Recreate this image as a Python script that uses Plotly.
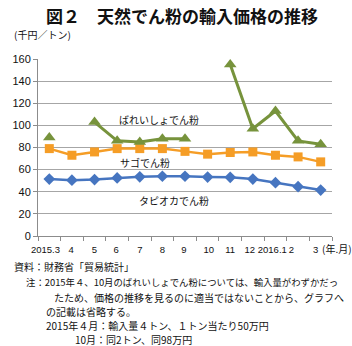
import plotly.graph_objects as go

# ---- data ----
months = ["2015.3", "4", "5", "6", "7", "8", "9", "10", "11", "12", "2016.1", "2", "3"]
potato = [89, None, 103, 86, 85, 88, 88, None, 155, 97, 113, 86, 83]
sago = [79, 73, 76, 79, 79, 79, 76.5, 74, 75.5, 76, 73, 71.5, 67]
tapioca = [51.5, 50.5, 51, 52.5, 53.5, 54, 54, 53.3, 53, 51.5, 48.2, 44.6, 41.5]
tick_labels = ["2015.3", "4", "5", "6", "7", "8", "9", "10", "11", "12", "2016.1", "2", "3"]
tick_pos = [-0.17, 0.97, 1.99, 2.95, 4.0, 5.0, 5.95, 7.05, 8.0, 8.86, 9.86, 10.7, 11.78]

W, H = 352, 346
L, R, T, B = 27, 20, 59, 110
PW, PH = W - L - R, H - T - B

def px(x):
    return (x - L) / PW

def py(y):
    return (H - B - y) / PH

GREEN = "#77933C"
ORANGE = "#F59D26"
BLUE = "#4675C0"
JP = "Noto Sans CJK JP"
LAT = "Liberation Sans, Arial"

fig = go.Figure()
fig.add_trace(go.Scatter(x=months, y=tapioca, mode="lines+markers",
                         line=dict(color=BLUE, width=2.5),
                         marker=dict(symbol="diamond", size=9, color=BLUE),
                         connectgaps=False, showlegend=False))
fig.add_trace(go.Scatter(x=months, y=sago, mode="lines+markers",
                         line=dict(color=ORANGE, width=2.5),
                         marker=dict(symbol="square", size=9, color=ORANGE),
                         connectgaps=False, showlegend=False))
fig.add_trace(go.Scatter(x=months, y=potato, mode="lines+markers",
                         line=dict(color=GREEN, width=3),
                         marker=dict(symbol="triangle-up", size=11, color=GREEN),
                         connectgaps=False, showlegend=False))
# helper trace for the label axis
fig.add_trace(go.Scatter(x=[-0.5, 12.5], y=[None, None], xaxis="x2", mode="lines",
                         showlegend=False, hoverinfo="skip"))

fig.update_layout(
    width=W, height=H,
    margin=dict(l=L, r=R, t=T, b=B),
    paper_bgcolor="white", plot_bgcolor="white",
    xaxis=dict(type="category", categoryorder="array", categoryarray=months,
               range=[-0.5, 12.5], tickson="boundaries", ticks="outside", ticklen=4,
               tickcolor="#8C8C8C", showticklabels=False, showgrid=False,
               showline=True, linecolor="#8C8C8C", linewidth=1, zeroline=False),
    xaxis2=dict(overlaying="x", anchor="y", side="bottom", range=[-0.5, 12.5],
                tickmode="array", tickvals=tick_pos, ticktext=tick_labels,
                tickangle=0, ticks="", ticklabelstandoff=6,
                showgrid=False, showline=False, zeroline=False,
                tickfont=dict(family=LAT, size=9.5, color="#111")),
    yaxis=dict(range=[0, 160], dtick=20, showgrid=True, gridcolor="#A6A6A6",
               gridwidth=1, showline=True, linecolor="#8C8C8C", ticks="outside",
               ticklen=4, tickcolor="#8C8C8C", zeroline=False,
               tickfont=dict(family=LAT, size=11, color="#111")),
)

ann = []
ann.append(dict(text="<b>図２　天然でん粉の輸入価格の推移</b>", x=px(176), y=py(15),
                xanchor="center", yanchor="middle", font=dict(family=JP, size=17, color="#111")))
ann.append(dict(text="(千円／トン)", x=px(0), y=py(34), xanchor="left", yanchor="middle",
                font=dict(family=JP, size=10, color="#111")))
ann.append(dict(text="(年.月)", x=px(320), y=py(248), xanchor="left", yanchor="middle",
                font=dict(family=JP, size=10, color="#111")))
ann.append(dict(text="ばれいしょでん粉", x=px(153), y=py(119.5), xanchor="center", yanchor="middle",
                font=dict(family=JP, size=10, color="#111")))
ann.append(dict(text="サゴでん粉", x=px(138), y=py(162), xanchor="center", yanchor="middle",
                font=dict(family=JP, size=10, color="#111")))
ann.append(dict(text="タピオカでん粉", x=px(168), y=py(200), xanchor="center", yanchor="middle",
                font=dict(family=JP, size=10, color="#111")))

notes = [
    (0, 266, "資料：財務省「貿易統計」", 10),
    (12, 282, "注：2015年４、10月のばれいしょでん粉については、輸入量がわずかだっ", 9.4),
    (42, 297, "たため、価格の推移を見るのに適当ではないことから、グラフへ", 10),
    (33, 311, "の記載は省略する。", 10),
    (33, 325, "2015年４月：輸入量４トン、１トン当たり50万円", 10),
    (63, 339, "10月：同2トン、同98万円", 10),
]
for x, y, t, s in notes:
    ann.append(dict(text=t, x=px(x), y=py(y), xanchor="left", yanchor="middle",
                    font=dict(family=JP, size=s, color="#111")))

for a in ann:
    a.update(xref="paper", yref="paper", showarrow=False)
fig.update_layout(annotations=ann)

fig.write_html("out.html")
